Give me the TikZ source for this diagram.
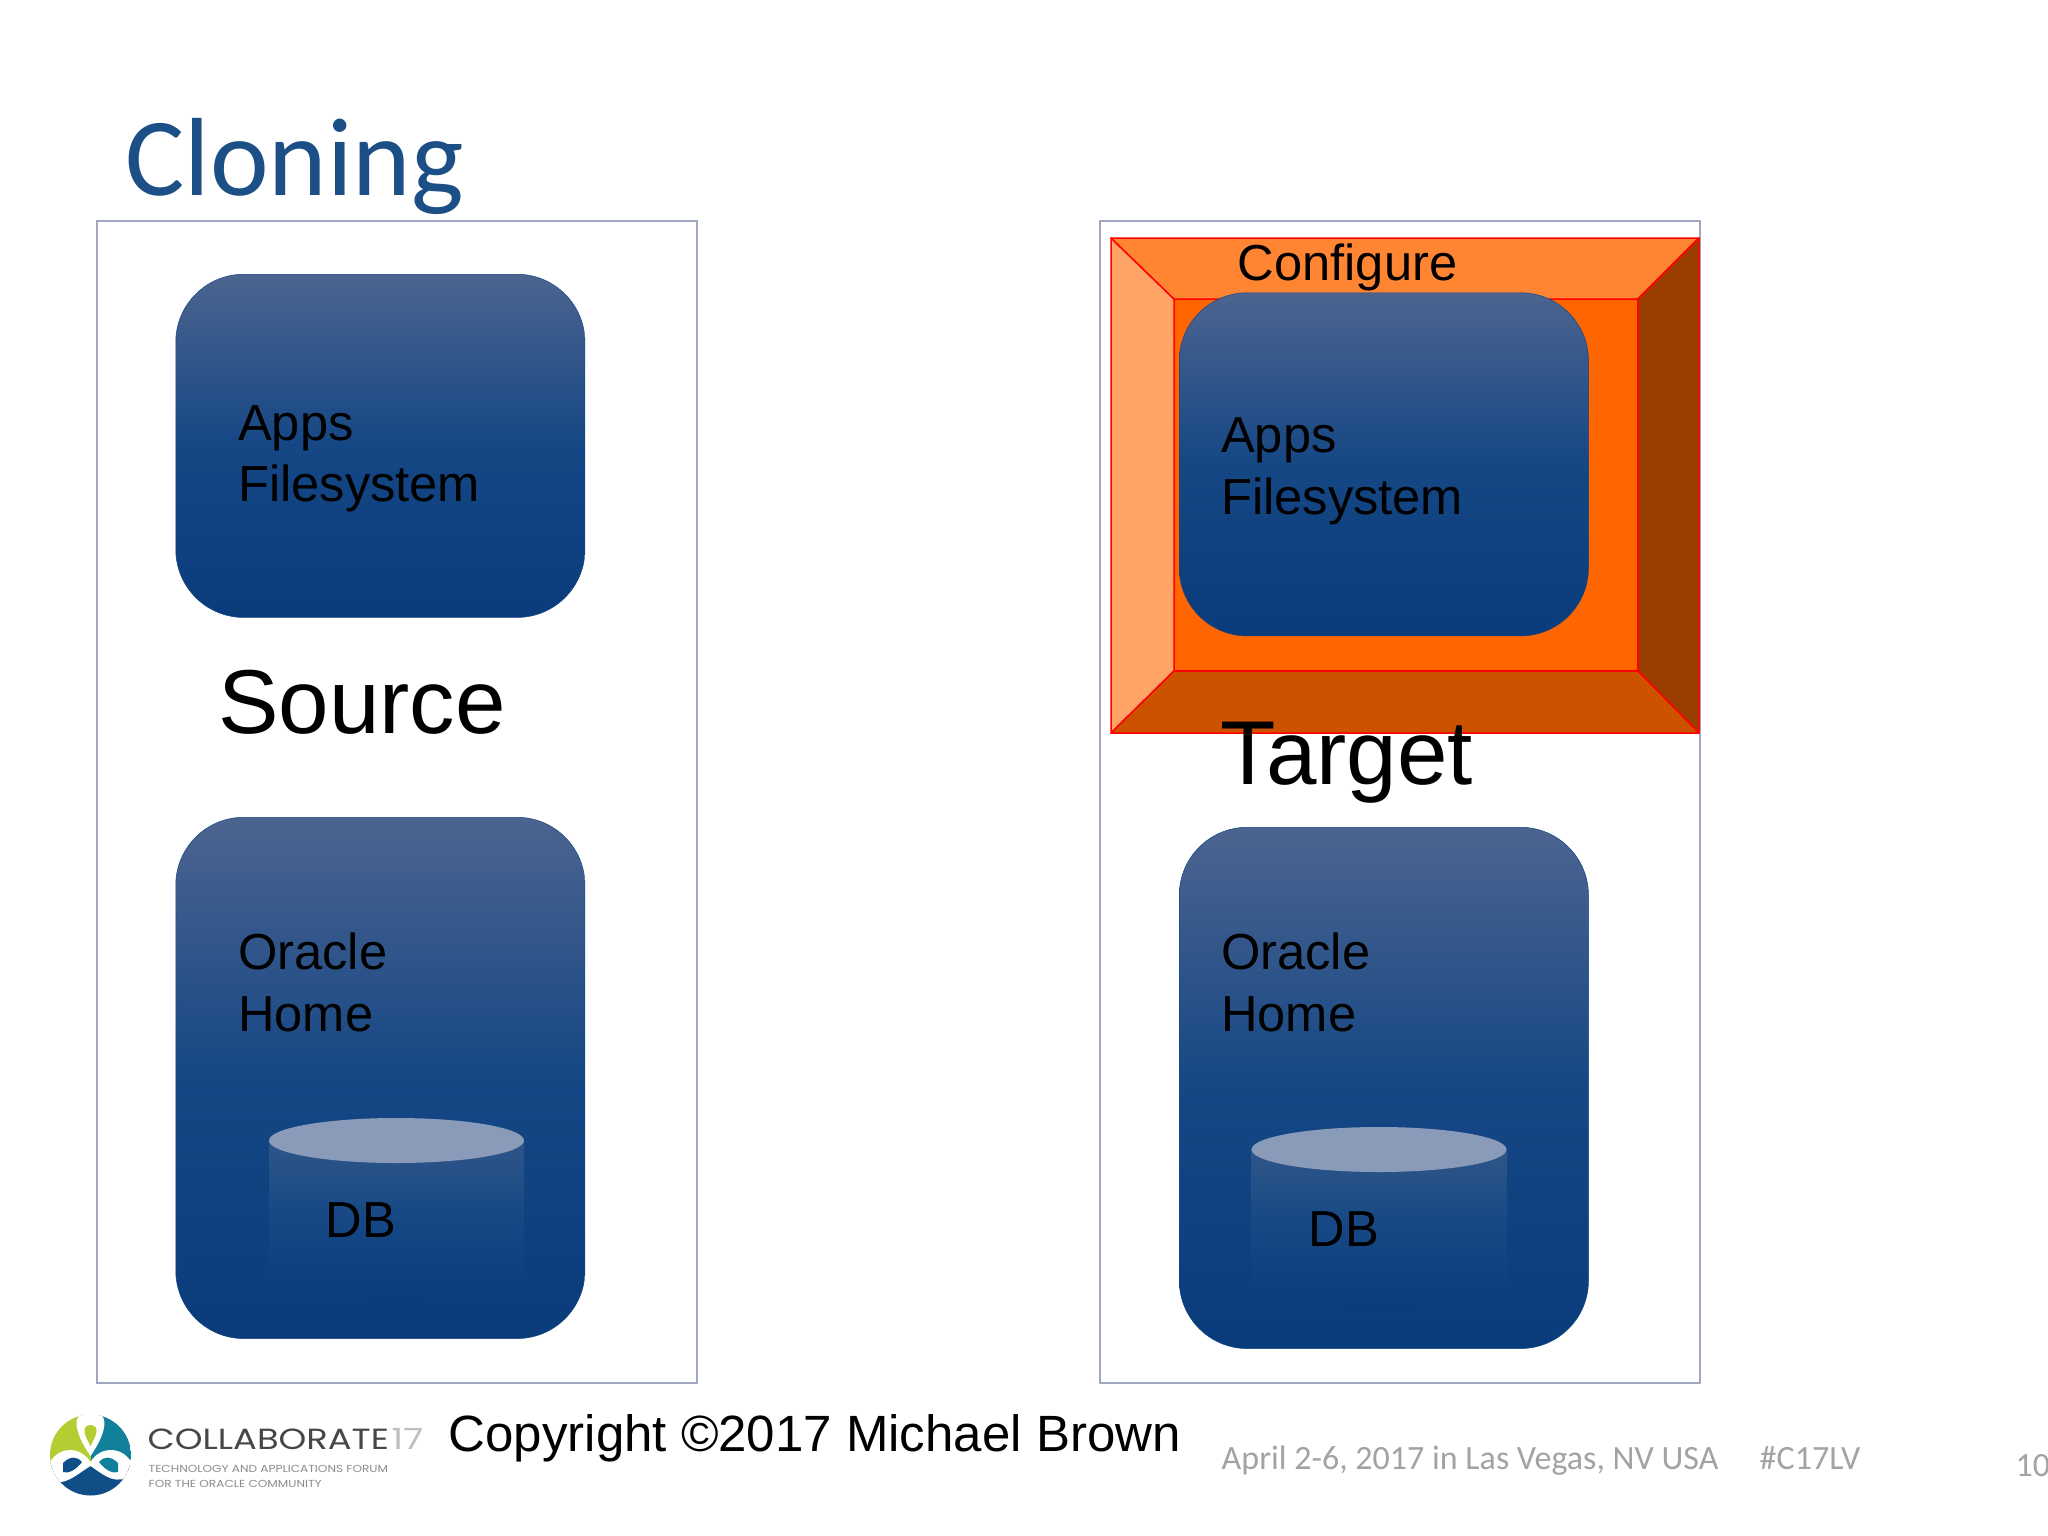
\documentclass[tikz,border=0pt]{standalone}
\usepackage{fontspec}
\setmainfont{Liberation Sans}
\newfontfamily\slidefont{Carlito}
\newfontfamily\logofont{Poppins}
\definecolor{boxtop}{HTML}{4C648F}
\definecolor{boxmid}{HTML}{154785}
\definecolor{boxbot}{HTML}{0A3C7C}
\definecolor{framecol}{HTML}{A0A8C0}
\definecolor{titlecol}{HTML}{1B4F85}
\definecolor{footcol}{HTML}{A3A3A3}
\definecolor{limecol}{HTML}{B3CE32}
\definecolor{tealcol}{HTML}{11809B}
\definecolor{navycol}{HTML}{0F4E86}
\definecolor{dischue}{HTML}{8A9BBA}
\definecolor{dbtop}{HTML}{2F5688}
\tikzset{
    framebox/.style={shape=rectangle,draw=framecol,line width=0.2mm,fill=white,anchor=north west,inner sep=0pt},
    softbox/.style={shape=rectangle,rounded corners=0.68cm,anchor=north west,inner sep=0pt,minimum width=4.09cm,
        top color=boxtop,bottom color=boxbot,middle color=boxmid,draw=boxmid,line width=0.05mm},
    boxtext/.style={anchor=base west,inner sep=0pt,text=black,font=\fontsize{14.4}{17.4}\selectfont},
    bigtext/.style={anchor=base west,inner sep=0pt,text=black,font=\fontsize{25.8}{30}\selectfont},
    foottext/.style={anchor=base west,inner sep=0pt,text=footcol,font=\slidefont\fontsize{9.67}{12}\selectfont},
    logotext/.style={anchor=base west,inner sep=0pt,font=\logofont},
    bevel/.style={draw=red,line width=0.15mm,line join=round},
    topdisc/.style={fill=dischue,draw=none},
    dbbody/.style={top color=dbtop,bottom color=boxbot,middle color=boxmid},
}
\begin{document}
\begin{tikzpicture}[x=0.01cm,y=-0.01cm]
    \useasboundingbox (0,0) rectangle (2048,1536);
    \fill[white] (0,0) rectangle (2048,1536);
    % frames
    \node[framebox,minimum width=6cm,minimum height=11.62cm] (SrcFrame) at (96,219.5) {};
    \node[framebox,minimum width=6cm,minimum height=11.62cm] (TgtFrame) at (1099,219.5) {};
    % bevel
    \path[bevel,fill={rgb,255:red,255;green,102;blue,0}] (1174,299) rectangle (1638,671);
    \path[bevel,fill={rgb,255:red,255;green,163;blue,102}] (1111,238) -- (1174,299) -- (1174,671) -- (1111,733) -- cycle;
    \path[bevel,fill={rgb,255:red,255;green,133;blue,51}] (1111,238) -- (1699,238) -- (1638,299) -- (1174,299) -- cycle;
    \path[bevel,fill={rgb,255:red,153;green,61;blue,0}] (1699,238) -- (1699,733) -- (1638,671) -- (1638,299) -- cycle;
    \path[bevel,fill={rgb,255:red,204;green,82;blue,0}] (1111,733) -- (1174,671) -- (1638,671) -- (1699,733) -- cycle;
    % boxes
    \node[softbox,minimum height=3.43cm] (SrcApps) at (175.5,274) {};
    \node[softbox,minimum height=5.21cm] (SrcHome) at (175.5,817) {};
    \node[softbox,minimum height=3.43cm] (TgtApps) at (1179,292.5) {};
    \node[softbox,minimum height=5.21cm] (TgtHome) at (1179,827) {};
    % cylinders
    \path[dbbody] (269,1140) -- (269,1280)
        .. controls (300,1295) and (350,1302) .. (396,1302) .. controls (445,1302) and (495,1295) .. (524,1280) -- (524,1140) -- cycle;
    \path[topdisc] (396.5,1140.5) ellipse (127.5 and 22.5);
    \path[dbbody] (1251,1149) -- (1251,1289)
        .. controls (1282,1304) and (1332,1311) .. (1378,1311) .. controls (1427,1311) and (1477,1304) .. (1507,1289) -- (1507,1149) -- cycle;
    \path[topdisc] (1379,1149.5) ellipse (127.5 and 22.5);
    % texts
    \node[anchor=base west,inner sep=0pt,text=titlecol,font=\slidefont\fontsize{31.6}{38}\selectfont] (Title) at (125,195) {Cloning};
    \node[boxtext] (SrcApps1) at (237.5,440.5) {Apps};
    \node[boxtext] (SrcApps2) at (237.5,501.5) {Filesystem};
    \node[boxtext] (SrcHome1) at (237.5,969) {Oracle};
    \node[boxtext] (SrcHome2) at (237.5,1031) {Home};
    \node[boxtext] (SrcDb) at (325,1237.5) {DB};
    \node[bigtext] (Source) at (217.5,733) {Source};
    \node[boxtext] (Config) at (1237,280.5) {Configure};
    \node[boxtext] (TgtApps1) at (1220.5,452.5) {Apps};
    \node[boxtext] (TgtApps2) at (1220.5,514) {Filesystem};
    \node[boxtext] (TgtHome1) at (1220.5,969) {Oracle};
    \node[boxtext] (TgtHome2) at (1220.5,1031) {Home};
    \node[boxtext] (TgtDb) at (1308,1246.5) {DB};
    \node[bigtext] (Target) at (1220,784) {Target};
    \node[boxtext,font=\fontsize{14.5}{17}\selectfont] (Copy) at (448,1451.5) {Copyright ©2017 Michael Brown};
    \node[foottext] (Dates) at (1221,1469) {April 2-6, 2017 in Las Vegas, NV USA};
    \node[foottext] (Tag) at (1759,1469) {\#C17LV};
    \node[foottext] (Page) at (2015,1476) {10};
    % logo
    \begin{scope}
        \clip (90.5,1455) circle (40.5);
        \fill[limecol] (50,1415) rectangle (90.5,1470);
        \fill[tealcol] (90.5,1415) rectangle (131,1470);
        \fill[navycol] (50,1462) rectangle (131,1496);
        \fill[white] (90.5,1410) .. controls (70,1412) and (74,1432) .. (90.5,1456) .. controls (107,1432) and (111,1412) .. (90.5,1410) -- cycle;
        \fill[limecol] (90.5,1446) .. controls (84,1434) and (81,1426) .. (90.5,1425) .. controls (100,1426) and (97,1434) .. (90.5,1446) -- cycle;
        \fill[white] (50,1462) .. controls (60,1446) and (80,1446) .. (90.5,1462) .. controls (100,1446) and (122,1446) .. (131,1462)
            -- (126,1478) .. controls (112,1484) and (100,1472) .. (90.5,1466) .. controls (80,1472) and (68,1484) .. (56,1482) -- cycle;
        \fill[navycol] (63,1463) .. controls (70,1456) and (77,1456) .. (82,1462) .. controls (76,1470) and (68,1474) .. (63,1472) -- cycle;
        \fill[tealcol] (118,1463) .. controls (111,1456) and (104,1456) .. (99,1462) .. controls (105,1470) and (113,1474) .. (118,1472) -- cycle;
    \end{scope}
    \node[logotext,text=black!72,font=\logofont\fontsize{8.3}{10}\selectfont] (LogoName) at (147,1449) {\scalebox{1.21}[1]{COLLABORATE}};
    \node[logotext,text=black!25,font=\logofont\fontsize{8.3}{10}\selectfont] (LogoYear) at (391,1449) {\scalebox{1.25}[1]{17}};
    \node[logotext,text=black!45,font=\logofont\fontsize{2.9}{4}\selectfont] (LogoLine1) at (148,1472) {\scalebox{1.19}[1]{TECHNOLOGY AND APPLICATIONS FORUM}};
    \node[logotext,text=black!45,font=\logofont\fontsize{2.9}{4}\selectfont] (LogoLine2) at (148,1487) {\scalebox{1.19}[1]{FOR THE ORACLE COMMUNITY}};
\end{tikzpicture}
\end{document}
